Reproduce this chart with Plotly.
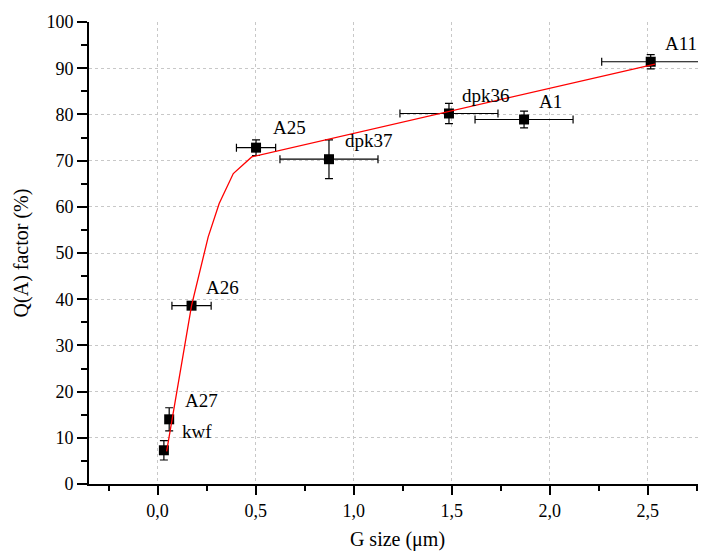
import plotly.graph_objects as go

# Sample data
labels = ["kwf", "A27", "A26", "A25", "dpk37", "dpk36", "A1", "A11"]
g_size = [0.032, 0.059, 0.173, 0.502, 0.874, 1.486, 1.869, 2.515]
q_factor = [7.3, 14.0, 38.6, 72.8, 70.3, 80.2, 78.9, 91.4]
x_err = [0.0, 0.0, 0.10, 0.10, 0.25, 0.25, 0.25, 0.25]
y_err = [2.1, 2.5, 0.0, 1.7, 4.2, 2.2, 1.8, 1.55]

# Fitted curve (red)
fit_x = [0.046, 0.173, 0.258, 0.314, 0.386, 0.480, 2.537]
fit_y = [7.05, 38.6, 53.5, 60.7, 67.2, 70.8, 90.9]

# label offsets (pixels)
label_dx = [33, 32, 31, 33, 40, 37, 26, 30]
label_dy = [19, 19, 18, 20, 19, 18, 18, 18]

FONT = "'Liberation Serif', 'Times New Roman', 'DejaVu Serif', serif"

fig = go.Figure()

fig.add_trace(go.Scatter(
    x=g_size, y=q_factor, mode="markers",
    marker=dict(symbol="square", size=10, color="black"),
    error_x=dict(type="data", array=x_err, color="black", thickness=1.2, width=4),
    error_y=dict(type="data", array=y_err, color="black", thickness=1.2, width=4),
    showlegend=False, cliponaxis=False,
))

fig.add_trace(go.Scatter(
    x=fit_x, y=fit_y, mode="lines",
    line=dict(color="red", width=1.3),
    showlegend=False,
))

for lab, x, y, dx, dy in zip(labels, g_size, q_factor, label_dx, label_dy):
    fig.add_annotation(x=x, y=y, text=lab, showarrow=False,
                       xshift=dx, yshift=dy,
                       font=dict(family=FONT, size=19, color="black"))

axis_common = dict(
    showline=True, linecolor="black", linewidth=2,
    ticks="outside", tickcolor="black", tickwidth=1.5,
    showgrid=True, gridcolor="#c8c8c8", griddash="dot", gridwidth=1,
    zeroline=False, mirror=False, automargin=False,
    tickfont=dict(family=FONT, size=18, color="black"),
)

fig.update_xaxes(
    range=[-0.35, 2.797], tick0=0, dtick=0.5, tickformat=".1f", ticklen=9,
    minor=dict(dtick=0.25, tick0=0, ticks="outside", ticklen=5, tickwidth=1.5,
               tickcolor="black", showgrid=False),
    title=dict(text="G size (μm)", font=dict(family=FONT, size=20, color="black"),
               standoff=12),
    **axis_common,
)
fig.update_yaxes(
    range=[0, 100], tick0=0, dtick=10, tickformat="d", ticklen=10,
    minor=dict(dtick=5, tick0=0, ticks="outside", ticklen=6, tickwidth=1.5,
               tickcolor="black", showgrid=False),
    title=dict(text="Q(A) factor (%)", font=dict(family=FONT, size=20, color="black"),
               standoff=12),
    **axis_common,
)

# The page body has an 8px default margin, so the figure is sized to fit.
fig.update_layout(
    width=698, height=546,
    margin=dict(l=81, r=0, t=14, b=70),
    plot_bgcolor="white", paper_bgcolor="white",
    separators=", ",
    font=dict(family=FONT, color="black"),
)

fig.write_html("out.html")
